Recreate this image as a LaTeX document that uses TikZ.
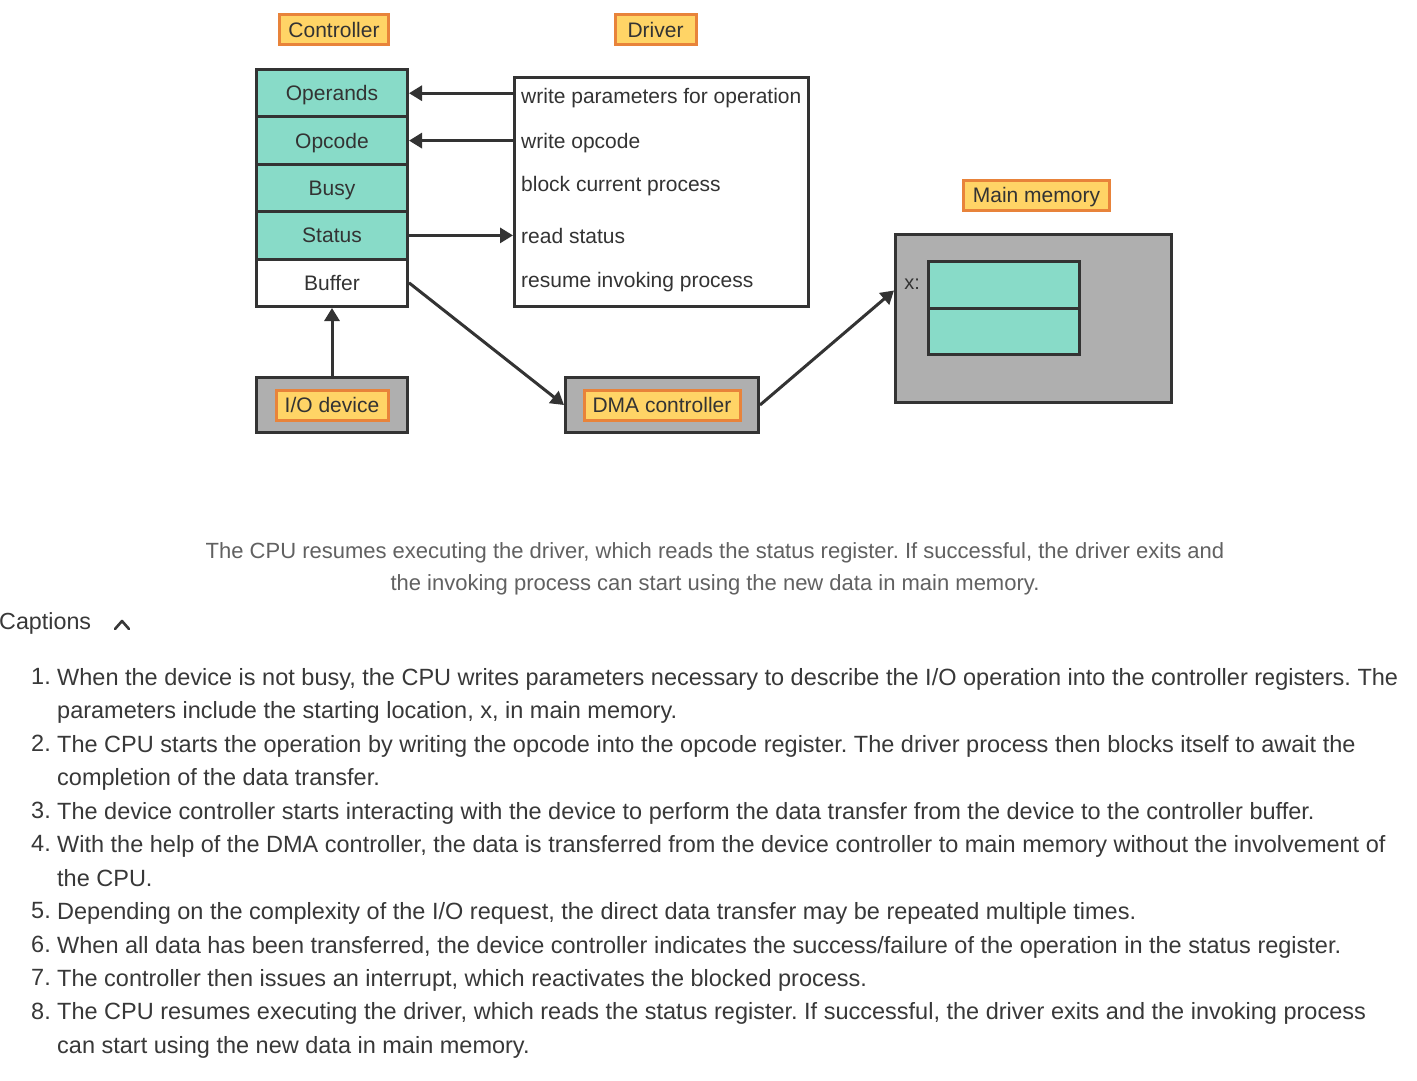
\documentclass[tikz,border=0pt]{standalone}
\usepackage{fontspec}
\setmainfont{Liberation Sans}
\usepackage{xcolor}
\usetikzlibrary{arrows.meta}
\definecolor{regteal}{HTML}{88DBC8}
\definecolor{lblyellow}{HTML}{FFD466}
\definecolor{lblorange}{HTML}{E8833A}
\definecolor{boxgray}{HTML}{AFAFAF}
\definecolor{inkdark}{HTML}{333333}
\definecolor{capgray}{HTML}{616161}
\definecolor{listgray}{HTML}{383838}
\frenchspacing

\begin{document}
\begin{tikzpicture}[x=1pt,y=-1pt,
    lbl/.style={draw=lblorange, fill=lblyellow, line width=3pt, text=inkdark,
      font=\fontsize{21}{25}\selectfont, text height=15pt, text depth=0pt,
      inner sep=0pt, minimum height=30pt},
    reg/.style={draw=inkdark, fill=regteal, line width=3pt, text=inkdark,
      font=\fontsize{21}{25}\selectfont, text height=15pt, text depth=0pt,
      inner sep=0pt, minimum width=151pt, minimum height=47.4pt},
    graybox/.style={draw=inkdark, fill=boxgray, line width=3pt, inner sep=0pt},
    drvtext/.style={anchor=base west, inner sep=0pt, text=inkdark,
      font=\fontsize{21}{25}\selectfont},
    conn/.style={draw=inkdark, line width=3pt, -{Triangle[length=13pt,width=15pt]}},
    item/.style={anchor=north west, inner sep=0pt, align=left, text=listgray,
      font=\fontsize{23.5}{33.45}\selectfont},
    num/.style={anchor=north east, inner sep=0pt, text=listgray,
      font=\fontsize{23.5}{33.45}\selectfont}]
  % 背景与边界
  \fill[white] (0,0) rectangle (1417,1080);
  \useasboundingbox (0,0) rectangle (1417,1080);

  % 标题标签
  \node[lbl, minimum width=109pt] (ctrllbl) at (334,29.5) {Controller};
  \node[lbl, minimum width=81pt] (drvlbl) at (655.5,29.5) {Driver};
  \node[lbl, minimum width=146pt] (memlbl) at (1036.5,195) {Main memory};

  % 控制器寄存器
  \node[reg] (opd) at (332,93.2) {Operands};
  \node[reg] (opc) at (332,140.6) {Opcode};
  \node[reg] (busy) at (332,188) {Busy};
  \node[reg] (stat) at (332,235.4) {Status};
  \node[reg, fill=white] (buf) at (332,282.8) {Buffer};

  % 驱动程序
  \node[draw=inkdark, line width=3pt, fill=white, minimum width=294pt,
    minimum height=229pt, inner sep=0pt] (drv) at (661.5,192) {};
  \node[drvtext] (wpar) at (521,103) {write parameters for operation};
  \node[drvtext] (wopc) at (521,148) {write opcode};
  \node[drvtext] (blk) at (521,191) {block current process};
  \node[drvtext] (rst) at (521,243) {read status};
  \node[drvtext] (res) at (521,287) {resume invoking process};

  % 设备与DMA
  \node[graybox, minimum width=151pt, minimum height=55pt] (io) at (332,405) {};
  \node[lbl, minimum width=112pt] (iolbl) at (io) {I/O device};
  \node[graybox, minimum width=193pt, minimum height=55pt] (dma) at (662,405) {};
  \node[lbl, minimum width=156pt] (dmalbl) at (dma) {DMA controller};

  % 主存
  \node[graybox, minimum width=276pt, minimum height=168pt] (mem) at (1033.5,318.5) {};
  \node[reg, minimum width=151pt, minimum height=46.5pt] (cella) at (1004,284.75) {};
  \node[reg, minimum width=151pt, minimum height=46.5pt] (cellb) at (1004,331.25) {};
  \node[anchor=east, inner sep=0pt, text=inkdark, font=\fontsize{20}{24}\selectfont,
    text height=10pt, text depth=0pt] (xlbl) at ([xshift=-7pt]cella.west) {x:};

  % 连线
  \draw[conn] (drv.west |- opd) -- (opd.east);
  \draw[conn] (drv.west |- opc) -- (opc.east);
  \draw[conn] (stat.east) -- (drv.west |- stat);
  \draw[conn] (io.north) -- (buf.south);
  \draw[conn] (buf.east) -- (dma.west);
  \draw[conn] (dma.east) -- ([yshift=28pt]mem.west);

  % 说明文字
  \node[anchor=north, inner sep=0pt, align=center, text=capgray,
    font=\fontsize{22}{32}\selectfont] (cap) at (715,542)
    {The CPU resumes executing the driver, which reads the status register. If successful, the driver exits and\\
     the invoking process can start using the new data in main memory.};
  \node[anchor=west, inner sep=0pt, text=listgray, font=\fontsize{23.3}{27}\selectfont] (caphead) at (-1,623) {Captions};
  \draw[listgray, line width=2.6pt, line cap=round, line join=round] (115,629) -- (122,621) -- (129,629);

  % 步骤列表
  \node[item] (s1) at (57,668.2) {When the device is not busy, the CPU writes parameters necessary to describe the I/O operation into the controller registers. The\\parameters include the starting location, x, in main memory.};
  \node[item] (s2) at (57,735.1) {The CPU starts the operation by writing the opcode into the opcode register. The driver process then blocks itself to await the\\completion of the data transfer.};
  \node[item] (s3) at (57,802) {The device controller starts interacting with the device to perform the data transfer from the device to the controller buffer.};
  \node[item] (s4) at (57,835.5) {With the help of the DMA controller, the data is transferred from the device controller to main memory without the involvement of\\the CPU.};
  \node[item] (s5) at (57,902.4) {Depending on the complexity of the I/O request, the direct data transfer may be repeated multiple times.};
  \node[item] (s6) at (57,935.8) {When all data has been transferred, the device controller indicates the success/failure of the operation in the status register.};
  \node[item] (s7) at (57,969.3) {The controller then issues an interrupt, which reactivates the blocked process.};
  \node[item] (s8) at (57,1002.7) {The CPU resumes executing the driver, which reads the status register. If successful, the driver exits and the invoking process\\can start using the new data in main memory.};
  \node[num] (n1) at ([xshift=-6pt]s1.north west) {1.};
  \node[num] (n2) at ([xshift=-6pt]s2.north west) {2.};
  \node[num] (n3) at ([xshift=-6pt]s3.north west) {3.};
  \node[num] (n4) at ([xshift=-6pt]s4.north west) {4.};
  \node[num] (n5) at ([xshift=-6pt]s5.north west) {5.};
  \node[num] (n6) at ([xshift=-6pt]s6.north west) {6.};
  \node[num] (n7) at ([xshift=-6pt]s7.north west) {7.};
  \node[num] (n8) at ([xshift=-6pt]s8.north west) {8.};
\end{tikzpicture}
\end{document}
